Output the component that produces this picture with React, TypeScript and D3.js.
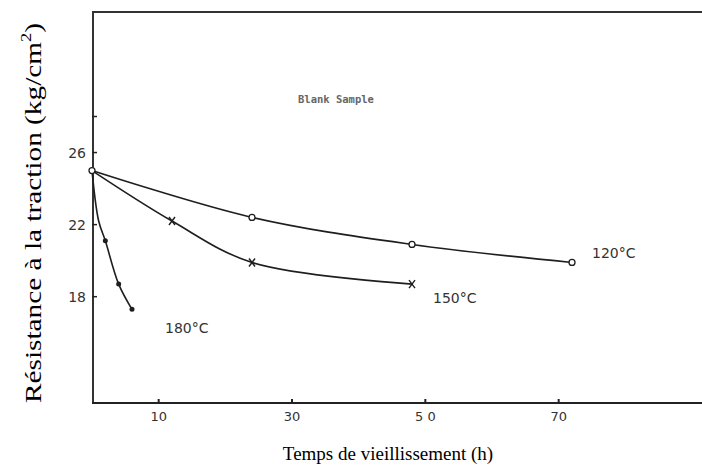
import React from "react";
import * as d3 from "d3";

const xTicks = [10, 30, 50, 70];
const xTickLabels = ["10", "30", "5 0", "70"];
const yTicks = [18, 22, 26];
const yMinorTicks = [28];

const hours120 = [0, 24, 48, 72];
const values120 = [25, 22.4, 20.9, 19.9];
const hours150 = [0, 12, 24, 48];
const values150 = [25, 22.2, 19.9, 18.7];
const hours180 = [0, 1, 2, 4, 6];
const values180 = [25, 22.2, 21.1, 18.7, 17.3];

const W = 702;
const H = 474;

export default function App() {
  const x = d3.scaleLinear().domain([0, 91.5]).range([92, 702]);
  const y = d3.scaleLinear().domain([12.1, 33.8]).range([403, 12]);

  const line = d3
    .line<[number, number]>()
    .x((d) => x(d[0]))
    .y((d) => y(d[1]))
    .curve(d3.curveCatmullRom.alpha(0.5));

  const s120 = hours120.map((h, i) => [h, values120[i]] as [number, number]);
  const s150 = hours150.map((h, i) => [h, values150[i]] as [number, number]);
  const s180 = hours180.map((h, i) => [h, values180[i]] as [number, number]);

  const stroke = "#1e1e1e";
  const tickFont = "'DejaVu Sans', sans-serif";
  const serif = "'Liberation Serif', 'Times New Roman', serif";

  return (
    <svg
      width={W}
      height={H}
      style={{ position: "absolute", left: 0, top: 0, background: "#fff" }}
    >
      {/* frame */}
      <line x1={x(0)} x2={W} y1={12} y2={12} stroke="#333" strokeWidth={2} />
      <line x1={x(0) + 1} x2={x(0) + 1} y1={12} y2={403} stroke="#333" strokeWidth={2} />
      <line x1={x(0)} x2={W} y1={403} y2={403} stroke="#222" strokeWidth={2} />

      {/* x ticks */}
      {xTicks.map((t, i) => (
        <g key={t}>
          <line x1={x(t)} x2={x(t)} y1={403} y2={399} stroke="#222" strokeWidth={2} />
          <text
            x={x(t)}
            y={421}
            textAnchor="middle"
            fontFamily={tickFont}
            fontSize={13}
            fill="#333"
          >
            {xTickLabels[i]}
          </text>
        </g>
      ))}

      {/* y ticks */}
      {yTicks.map((t) => (
        <g key={t}>
          <line x1={x(0)} x2={x(0) + 5} y1={y(t)} y2={y(t)} stroke="#222" strokeWidth={1.5} />
          <text
            x={x(0) - 6}
            y={y(t) + 5}
            textAnchor="end"
            fontFamily={tickFont}
            fontSize={14}
            fill="#333"
          >
            {t}
          </text>
        </g>
      ))}
      {yMinorTicks.map((t) => (
        <line key={t} x1={x(0)} x2={x(0) + 5} y1={y(t)} y2={y(t)} stroke="#222" strokeWidth={1.5} />
      ))}

      {/* curves */}
      <path d={line(s120) || ""} fill="none" stroke={stroke} strokeWidth={1.6} />
      <path d={line(s150) || ""} fill="none" stroke={stroke} strokeWidth={1.6} />
      <path d={line(s180) || ""} fill="none" stroke={stroke} strokeWidth={1.6} />

      {/* markers */}
      {s120.map((d, i) => (
        <circle key={"a" + i} cx={x(d[0])} cy={y(d[1])} r={3} fill="#fff" stroke={stroke} strokeWidth={1.3} />
      ))}
      {s150.slice(1).map((d, i) => (
        <g key={"b" + i} stroke={stroke} strokeWidth={1.4}>
          <line x1={x(d[0]) - 3} x2={x(d[0]) + 3} y1={y(d[1]) - 4} y2={y(d[1]) + 4} />
          <line x1={x(d[0]) + 3} x2={x(d[0]) - 3} y1={y(d[1]) - 4} y2={y(d[1]) + 4} />
        </g>
      ))}
      {s180.slice(2).map((d, i) => (
        <circle key={"c" + i} cx={x(d[0])} cy={y(d[1])} r={2.5} fill={stroke} />
      ))}

      {/* series labels */}
      <text x={592} y={258} fontFamily={tickFont} fontSize={14} fill="#333">120°C</text>
      <text x={433} y={303} fontFamily={tickFont} fontSize={14} fill="#333">150°C</text>
      <text x={165} y={333} fontFamily={tickFont} fontSize={14} fill="#333">180°C</text>

      <text
        x={298}
        y={103}
        fontFamily="'DejaVu Sans Mono', 'Liberation Mono', monospace"
        fontSize={10.5}
        fontWeight="bold"
        fill="#666"
      >
        Blank Sample
      </text>

      {/* axis titles */}
      <text
        transform={`translate(41, 213) rotate(-90)`}
        textAnchor="middle"
        fontFamily={serif}
        fontSize={24}
        fill="#000"
        textLength={380}
        lengthAdjust="spacingAndGlyphs"
      >
        Résistance à la traction (kg/cm
        <tspan dy={-10} fontSize={15}>2</tspan>
        <tspan dy={10}>)</tspan>
      </text>
      <text
        x={388}
        y={460}
        textAnchor="middle"
        fontFamily={serif}
        fontSize={19}
        fill="#000"
      >
        Temps de vieillissement (h)
      </text>
    </svg>
  );
}
